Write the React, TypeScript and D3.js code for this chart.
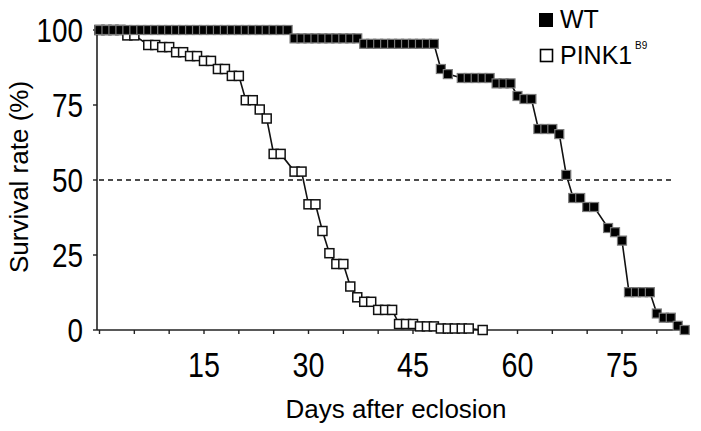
import React from 'react';
import * as d3 from 'd3';

// ---- data ----
const wtDays = [
  0, 1, 2, 3, 4, 5, 6, 7, 8, 9, 10, 11, 12, 13, 14, 15, 16, 17, 18, 19, 20, 21, 22, 23, 24, 25, 26, 27,
  28, 29, 30, 31, 32, 33, 34, 35, 36, 37,
  38, 39, 40, 41, 42, 43, 44, 45, 46, 47, 48,
  49, 50, 52, 53, 54, 55, 56, 57, 58, 59, 60, 61, 62, 63, 64, 65, 66, 67, 68, 69, 70, 71,
  73, 74, 75, 76, 77, 78, 79, 80, 81, 82, 83, 84,
];
const wtSurvival = [
  100, 100, 100, 100, 100, 100, 100, 100, 100, 100, 100, 100, 100, 100, 100, 100, 100, 100, 100, 100, 100, 100, 100, 100, 100, 100, 100, 100,
  97.2, 97.2, 97.2, 97.2, 97.2, 97.2, 97.2, 97.2, 97.2, 97.2,
  95.4, 95.4, 95.4, 95.4, 95.4, 95.4, 95.4, 95.4, 95.4, 95.4, 95.4,
  87, 85.3, 84, 84, 84, 84, 84, 82.2, 82.2, 82.2, 78, 77, 77, 67, 67, 67, 65.3, 51.7, 44, 44, 41, 41,
  34, 32.6, 29.8, 12.6, 12.6, 12.6, 12.6, 5.5, 4.1, 4.1, 1.4, 0,
];

const pinkDays = [
  0, 1, 2, 3, 4, 5, 7, 8, 9, 10, 11, 12, 13, 14, 15, 16, 17, 18, 19, 20,
  21, 22, 23, 24, 25, 26, 28, 29, 30, 31, 32, 33, 34, 35, 36, 37, 38, 39,
  40, 41, 42, 43, 44, 45, 46, 47, 48, 49, 50, 51, 52, 53, 55,
];
const pinkSurvival = [
  100, 100, 100, 100, 98.2, 98.2, 95, 95, 94.3, 94.3, 92.6, 92.6, 91.3, 91.3, 89.7, 89.7, 87, 87, 84.7, 84.7,
  76.6, 76.6, 73.5, 70.5, 58.7, 58.7, 52.8, 52.8, 41.9, 41.9, 33, 25.6, 22, 22, 14.5, 10.9, 9.4, 9.4,
  6.7, 6.7, 6.7, 2, 2, 2, 1.2, 1.2, 1.2, 0.5, 0.5, 0.5, 0.5, 0.5, 0,
];

const xMinorTicks = [0, 5, 10, 15, 20, 25, 30, 35, 40, 45, 50, 55, 60, 65, 70, 75, 80];
const xLabelTicks = [15, 30, 45, 60, 75];
const yTicks = [0, 25, 50, 75, 100];
const referenceLevel = 50;

const seriesNames = ['WT', 'PINK1'];
const pinkSuperscript = 'B9';
const xTitle = 'Days after eclosion';
const yTitle = 'Survival rate (%)';

const W = 701;
const H = 431;

export default function App() {
  const x = d3.scaleLinear().domain([0, 75]).range([99.5, 622]);
  const y = d3.scaleLinear().domain([0, 100]).range([330, 30]);

  const wt = wtDays.map((d, i) => [d, wtSurvival[i]] as [number, number]);
  const pink = pinkDays.map((d, i) => [d, pinkSurvival[i]] as [number, number]);

  const line = d3
    .line<[number, number]>()
    .x((d) => x(d[0]))
    .y((d) => y(d[1]));

  const axisX0 = 97;
  const axisX1 = x(84.6);
  const sq = 9;
  const numFont = 'Liberation Sans, Arial, sans-serif';

  return (
    <svg
      width={W}
      height={H}
      viewBox={`0 0 ${W} ${H}`}
      style={{ position: 'absolute', left: 0, top: 0, background: '#fff' }}
    >
      <rect x={0} y={0} width={W} height={H} fill="#fff" />

      {/* axes */}
      <line x1={axisX0} y1={y(100) - 2} x2={axisX0} y2={y(0)} stroke="#222" strokeWidth={1.6} />
      <line x1={axisX0} y1={y(0)} x2={axisX1} y2={y(0)} stroke="#222" strokeWidth={1.6} />

      {yTicks.map((t) => (
        <g key={'yt' + t}>
          <line x1={axisX0 - 4} x2={axisX0} y1={y(t)} y2={y(t)} stroke="#222" strokeWidth={1.4} />
          <text
            transform={`translate(83, ${y(t) + 12}) scale(0.82, 1)`}
            textAnchor="end"
            fontFamily={numFont}
            fontSize={34}
            fill="#000"
          >
            {t}
          </text>
        </g>
      ))}

      {xMinorTicks.map((t) => (
        <line key={'xt' + t} x1={x(t)} x2={x(t)} y1={y(0)} y2={y(0) + 4} stroke="#222" strokeWidth={1.4} />
      ))}
      {xLabelTicks.map((t) => (
        <text
          key={'xl' + t}
          transform={`translate(${x(t)}, 377) scale(0.82, 1)`}
          textAnchor="middle"
          fontFamily={numFont}
          fontSize={35}
          fill="#000"
        >
          {t}
        </text>
      ))}

      {/* titles */}
      <text
        x={396}
        y={418}
        textAnchor="middle"
        fontFamily={numFont}
        fontSize={26}
        fill="#000"
      >
        {xTitle}
      </text>
      <text
        transform={`translate(28, 177) rotate(-90)`}
        textAnchor="middle"
        fontFamily={numFont}
        fontSize={26}
        fill="#000"
      >
        {yTitle}
      </text>

      {/* 50% reference */}
      <line
        x1={axisX0 + 2}
        x2={673}
        y1={y(referenceLevel)}
        y2={y(referenceLevel)}
        stroke="#111"
        strokeWidth={1.6}
        strokeDasharray="5,4"
      />

      {/* PINK1 */}
      <path d={line(pink) || ''} fill="none" stroke="#111" strokeWidth={1.6} />
      {pink.map((d, i) => (
        <rect
          key={'p' + i}
          x={x(d[0]) - sq / 2}
          y={y(d[1]) - sq / 2}
          width={sq}
          height={sq}
          fill="#fff"
          stroke="#111"
          strokeWidth={1.5}
        />
      ))}

      {/* WT */}
      <path d={line(wt) || ''} fill="none" stroke="#111" strokeWidth={1.6} />
      {wt.map((d, i) => (
        <rect
          key={'w' + i}
          x={x(d[0]) - sq / 2}
          y={y(d[1]) - sq / 2}
          width={sq}
          height={sq}
          fill="#000"
          stroke="#7a7a7a"
          strokeWidth={1.2}
        />
      ))}

      {/* legend */}
      <rect x={539} y={13} width={14} height={14} fill="#000" />
      <text x={560} y={28} fontFamily={numFont} fontSize={25} fill="#000">
        {seriesNames[0]}
      </text>
      <rect x={540.5} y={49.5} width={12} height={12} fill="#fff" stroke="#000" strokeWidth={1.6} />
      <text x={560} y={64} fontFamily={numFont} fontSize={25} fill="#000">
        {seriesNames[1]}
      </text>
      <text x={635} y={49} fontFamily={numFont} fontSize={10} fill="#000">
        {pinkSuperscript}
      </text>
    </svg>
  );
}
